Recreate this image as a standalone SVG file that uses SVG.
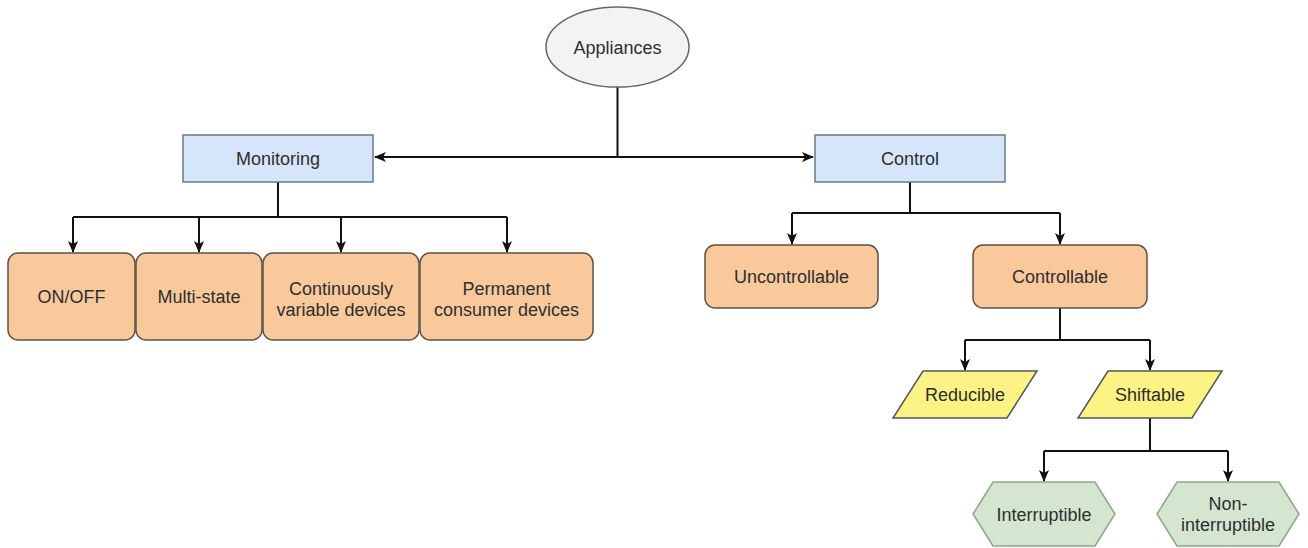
<svg xmlns="http://www.w3.org/2000/svg" width="1308" height="548" viewBox="0 0 1308 548">
  <style>
    text { font-family: "Liberation Sans", Arial, sans-serif; font-size: 18px; fill: #2e2e2e; text-anchor: middle; }
    .root { fill: #f3f3f3; stroke: #666; stroke-width: 1.5; }
    .cat { fill: #d6e6fa; stroke: #6a7a8c; stroke-width: 1.5; }
    .dev { fill: #f9c99c; stroke: #5e5246; stroke-width: 1.5; }
    .flex { fill: #fbf485; stroke: #555; stroke-width: 1.5; }
    .mode { fill: #d4e6d0; stroke: #8fa68a; stroke-width: 1.5; }
    .wire { fill: none; stroke: #111; stroke-width: 2; }
  </style>
  <defs>
    <marker id="arrow" viewBox="0 0 12 10" refX="11" refY="5" markerWidth="12" markerHeight="10" markerUnits="userSpaceOnUse" orient="auto">
      <path d="M0,0 L12,5 L0,10 L3,5 Z" fill="#111"/>
    </marker>
  </defs>

  <g id="connectors">
    <path class="wire" d="M617.5,87 V157"/>
    <path class="wire" d="M617.5,157 H375" marker-end="url(#arrow)"/>
    <path class="wire" d="M617.5,157 H813" marker-end="url(#arrow)"/>

    <path class="wire" d="M278,182 V217"/>
    <path class="wire" d="M73,217 H507"/>
    <path class="wire" d="M73,217 V252" marker-end="url(#arrow)"/>
    <path class="wire" d="M199,217 V252" marker-end="url(#arrow)"/>
    <path class="wire" d="M341,217 V252" marker-end="url(#arrow)"/>
    <path class="wire" d="M507,217 V252" marker-end="url(#arrow)"/>

    <path class="wire" d="M910,182 V213"/>
    <path class="wire" d="M792,213 H1060"/>
    <path class="wire" d="M792,213 V244" marker-end="url(#arrow)"/>
    <path class="wire" d="M1060,213 V244" marker-end="url(#arrow)"/>

    <path class="wire" d="M1060,308 V340"/>
    <path class="wire" d="M965,340 H1150"/>
    <path class="wire" d="M965,340 V370" marker-end="url(#arrow)"/>
    <path class="wire" d="M1150,340 V370" marker-end="url(#arrow)"/>

    <path class="wire" d="M1150,418 V451"/>
    <path class="wire" d="M1044,451 H1228"/>
    <path class="wire" d="M1044,451 V481" marker-end="url(#arrow)"/>
    <path class="wire" d="M1228,451 V481" marker-end="url(#arrow)"/>
  </g>

  <g id="appliances">
    <ellipse class="root" cx="617.5" cy="47" rx="71.5" ry="40"/>
    <text x="617.5" y="53.5">Appliances</text>
  </g>

  <g id="monitoring">
    <rect class="cat" x="183" y="135" width="190" height="47"/>
    <text x="278" y="165">Monitoring</text>
  </g>

  <g id="control">
    <rect class="cat" x="815" y="135" width="190" height="47"/>
    <text x="910" y="165">Control</text>
  </g>

  <g id="on-off">
    <rect class="dev" x="8" y="253" width="127" height="87" rx="10"/>
    <text x="71.5" y="303">ON/OFF</text>
  </g>

  <g id="multi-state">
    <rect class="dev" x="136" y="253" width="126" height="87" rx="10"/>
    <text x="199" y="303">Multi-state</text>
  </g>

  <g id="continuously-variable">
    <rect class="dev" x="263" y="253" width="156" height="87" rx="10"/>
    <text x="341" y="295">Continuously</text>
    <text x="341" y="316">variable devices</text>
  </g>

  <g id="permanent-consumer">
    <rect class="dev" x="420" y="253" width="173" height="87" rx="10"/>
    <text x="506.5" y="295">Permanent</text>
    <text x="506.5" y="316">consumer devices</text>
  </g>

  <g id="uncontrollable">
    <rect class="dev" x="705" y="245" width="173" height="63" rx="10"/>
    <text x="791.5" y="283">Uncontrollable</text>
  </g>

  <g id="controllable">
    <rect class="dev" x="973" y="245" width="174" height="63" rx="10"/>
    <text x="1060" y="283">Controllable</text>
  </g>

  <g id="reducible">
    <polygon class="flex" points="923,371 1037,371 1007,418 893,418"/>
    <text x="965" y="401">Reducible</text>
  </g>

  <g id="shiftable">
    <polygon class="flex" points="1108,371 1222,371 1192,418 1078,418"/>
    <text x="1150" y="401">Shiftable</text>
  </g>

  <g id="interruptible">
    <polygon class="mode" points="973,514 993,482 1095,482 1115,514 1095,546 993,546"/>
    <text x="1044" y="520.5">Interruptible</text>
  </g>

  <g id="non-interruptible">
    <polygon class="mode" points="1157,514 1177,482 1279,482 1299,514 1279,546 1177,546"/>
    <text x="1228" y="510">Non-</text>
    <text x="1228" y="531">interruptible</text>
  </g>
</svg>
